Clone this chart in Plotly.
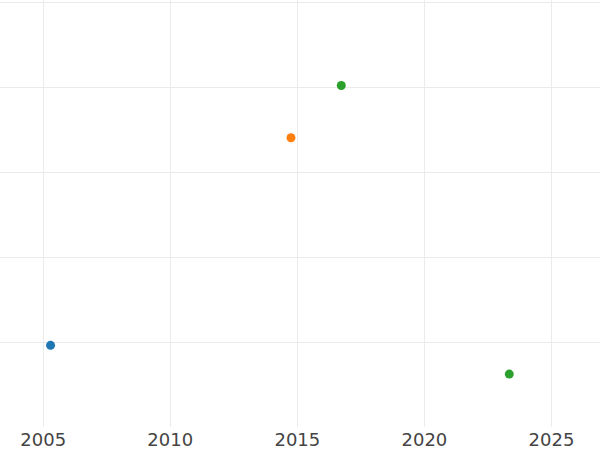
import plotly.graph_objects as go

# data
series_names = ["A", "B", "C", "C2"]
x_years = [2005.29, 2014.75, 2016.73, 2023.34]
y_values = [0.965, 3.408, 4.024, 0.627]
colors = ["#1f77b4", "#ff7f0e", "#2ca02c", "#2ca02c"]
x_ticks = [2005, 2010, 2015, 2020, 2025]

fig = go.Figure()
for name, xv, yv, c in zip(series_names, x_years, y_values, colors):
    fig.add_trace(go.Scatter(x=[xv], y=[yv], mode="markers", name=name,
                             marker=dict(color=c, size=9)))

fig.update_layout(
    width=600, height=450,
    margin=dict(l=0, r=0, t=0, b=23, pad=0),
    paper_bgcolor="white", plot_bgcolor="white",
    showlegend=False,
    font=dict(family="DejaVu Sans", size=18, color="#444"),
)
fig.update_xaxes(range=[2003.30, 2026.91], tickvals=x_ticks,
                 ticktext=[str(t) for t in x_ticks],
                 showgrid=True, gridcolor="#ebebeb", gridwidth=1,
                 zeroline=False, showline=False, ticks="", automargin=False)
fig.update_yaxes(range=[0.004, 5.03], dtick=1, tick0=0,
                 showgrid=True, gridcolor="#ebebeb", gridwidth=1,
                 zeroline=False, showline=False, showticklabels=False,
                 ticks="", automargin=False)

fig.write_html("out.html",
               config={"displayModeBar": False},
               post_script="document.body.style.margin='0';document.body.style.overflow='hidden';")
